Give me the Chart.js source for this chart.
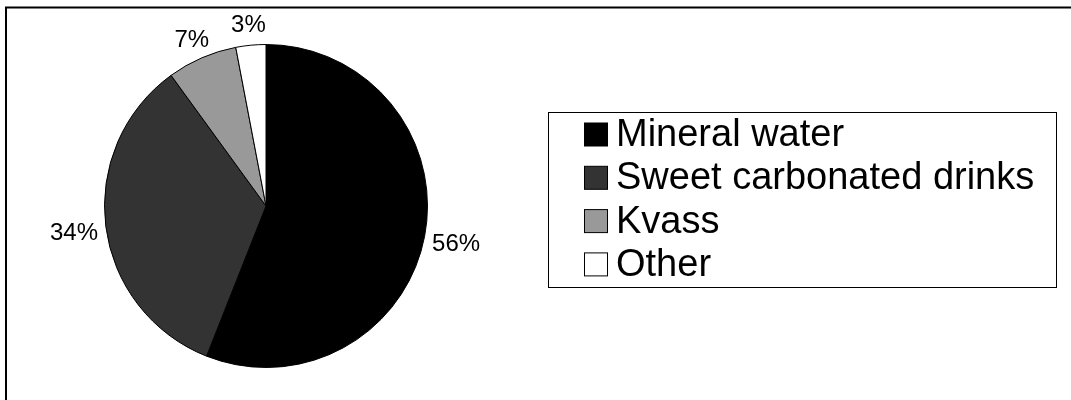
<!DOCTYPE html>
<html>
<head>
<meta charset="utf-8">
<script src="https://cdn.jsdelivr.net/npm/chart.js@4/dist/chart.umd.min.js"></script>
<style>
	html, body { margin: 0; padding: 0; background: #ffffff; }
	canvas { display: block; }
</style>
</head>
<body>
<canvas id="pieDrinks" width="1071" height="400"></canvas>
<script>
var categories = ["Mineral water", "Sweet carbonated drinks", "Kvass", "Other"];
var shares = [56, 34, 7, 3];
var sliceColors = ["#000000", "#333333", "#999999", "#ffffff"];

document.addEventListener("DOMContentLoaded", function () {
	var ctx = document.getElementById("pieDrinks").getContext("2d");

	// frame round the whole picture, cut off at right and bottom
	var framePlugin = {
		id: "frame",
		afterDraw: function (chart) {
			var c = chart.ctx;
			c.save();
			c.strokeStyle = "#000000";
			c.lineWidth = 2;
			c.strokeRect(6, 7.5, 1200, 500);
			c.restore();
		},
	};

	// percent labels just outside each slice
	var labelPlugin = {
		id: "outLabels",
		afterDatasetsDraw: function (chart) {
			var c = chart.ctx;
			var arcs = chart.getDatasetMeta(0).data;
			c.save();
			c.font = "24px 'Liberation Sans', Arial, sans-serif";
			c.fillStyle = "#000000";
			c.textAlign = "center";
			c.textBaseline = "middle";
			arcs.forEach(function (arc, i) {
				var p = arc.getProps(["x", "y", "startAngle", "endAngle", "outerRadius"], true);
				var mid = (p.startAngle + p.endAngle) / 2;
				var text = shares[i] + "%";
				var w = c.measureText(text).width;
				var h = 24;
				var cos = Math.cos(mid), sin = Math.sin(mid);
				var ax = p.x + cos * (p.outerRadius + 8);
				var ay = p.y + sin * (p.outerRadius + 8);
				var cx = ax + cos * w / 2;
				var cy = ay + sin * h / 2 + 5 * cos * cos;
				c.fillText(text, cx, cy);
			});
			c.restore();
		},
	};

	// boxed legend on the right
	var legendPlugin = {
		id: "boxLegend",
		afterDraw: function (chart) {
			var c = chart.ctx;
			var left = 548.5, top = 112.5, right = 1056.5, bottom = 287.5;
			var rowH = 43.3;
			c.save();
			c.fillStyle = "#ffffff";
			c.fillRect(left, top, right - left, bottom - top);
			c.strokeStyle = "#000000";
			c.lineWidth = 1;
			c.strokeRect(left, top, right - left, bottom - top);
			c.font = "38px 'Liberation Sans', Arial, sans-serif";
			c.textBaseline = "middle";
			categories.forEach(function (name, i) {
				var cy = 134.5 + i * rowH;
				c.fillStyle = sliceColors[i];
				c.fillRect(584.5, cy - 11.5, 23, 23);
				c.strokeRect(584.5, cy - 11.5, 23, 23);
				c.fillStyle = "#000000";
				c.fillText(name, 616, cy + 1);
			});
			c.restore();
		},
	};

	new Chart(ctx, {
		type: "pie",
		data: {
			labels: categories,
			datasets: [
				{
					data: shares,
					backgroundColor: sliceColors,
					borderColor: "#000000",
					borderWidth: 1,
				},
			],
		},
		options: {
			responsive: false,
			animation: false,
			layout: {
				padding: { left: 104, top: 44, right: 643, bottom: 32 },
			},
			plugins: {
				legend: { display: false },
				tooltip: { enabled: false },
			},
		},
		plugins: [labelPlugin, legendPlugin, framePlugin],
	});
});
</script>
</body>
</html>
